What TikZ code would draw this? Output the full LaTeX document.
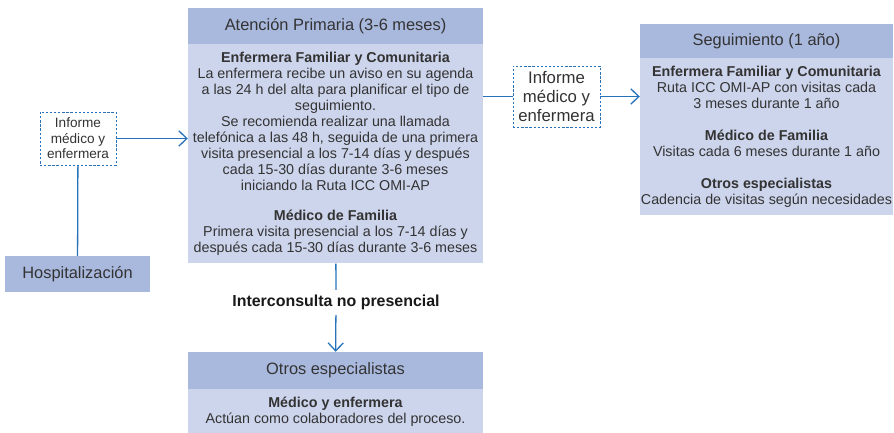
\documentclass[tikz,border=0pt]{standalone}
\usepackage{fontspec}
\setmainfont{Liberation Sans}
\usetikzlibrary{positioning,arrows.meta}
\definecolor{headblue}{RGB}{169,184,221}
\definecolor{bodyblue}{RGB}{205,213,237}
\definecolor{lineblue}{RGB}{40,114,186}
\newcommand{\txtbody}{\fontsize{12.2}{13.66}\selectfont}
\newcommand{\txthead}{\fontsize{14}{16}\selectfont}
\newcommand{\txtinfo}{\fontsize{11.6}{13.2}\selectfont}
\newcommand{\txtinfobig}{\fontsize{14.3}{16.6}\selectfont}
\tikzset{
  headbox/.style={fill=headblue, inner sep=0pt, align=center, font=\txthead, text=black!80},
  bodybox/.style={fill=bodyblue, inner sep=0pt, align=center, font=\txtbody, text=black!80},
  infobox/.style={draw=lineblue, dash pattern=on 2pt off 1.5pt, fill=white, inner sep=0pt, align=center, text=black!80},
  link/.style={draw=lineblue, line width=1.1pt},
  linkarrow/.style={link, -{Straight Barb[length=2.4mm,width=4.6mm]}}
}
\begin{document}
\begin{tikzpicture}[x=0.03cm,y=-0.03cm]
  \useasboundingbox (0,0) rectangle (894,433);
  %Atencion primaria
  \node[headbox, minimum width=8.85cm, minimum height=1.08cm] (ap) at (335.5,26) {Atención Primaria (3-6 meses)};
  \node[bodybox, minimum width=8.85cm, minimum height=6.57cm, below=0pt of ap] (apbody) {%
    \textbf{Enfermera Familiar y Comunitaria}\\
    La enfermera recibe un aviso en su agenda\\
    a las 24 h del alta para planificar el tipo de\\
    seguimiento.\\
    Se recomienda realizar una llamada\\
    telefónica a las 48 h, seguida de una primera\\
    visita presencial a los 7-14 días y después\\
    cada 15-30 días durante 3-6 meses\\
    iniciando la Ruta ICC OMI-AP\\[0.42cm]
    \textbf{Médico de Familia}\\
    Primera visita presencial a los 7-14 días y\\
    después cada 15-30 días durante 3-6 meses};
  %Hospitalizacion
  \node[headbox, minimum width=4.35cm, minimum height=1.08cm] (hosp) at (77.5,274) {Hospitalización};
  \node[infobox, font=\txtinfo, minimum width=2.28cm, minimum height=1.59cm] (infoL) at (78,138.5) {Informe\\médico y\\enfermera};
  %Seguimiento
  \node[headbox, minimum width=7.59cm, minimum height=1.02cm] (seg) at (766.5,41) {Seguimiento (1 año)};
  \node[bodybox, minimum width=7.59cm, minimum height=4.71cm, below=0pt of seg] (segbody) {%
    \textbf{Enfermera Familiar y Comunitaria}\\
    Ruta ICC OMI-AP con visitas cada\\
    3 meses durante 1 año\\[0.48cm]
    \textbf{Médico de Familia}\\
    Visitas cada 6 meses durante 1 año\\[0.48cm]
    \textbf{Otros especialistas}\\
    Cadencia de visitas según necesidades};
  \node[infobox, font=\txtinfobig, minimum width=2.61cm, minimum height=1.83cm] (infoR) at (556.5,96.5) {Informe\\médico y\\enfermera};
  %Otros especialistas
  \node[inner sep=0pt, minimum height=0.75cm, font=\fontsize{13.6}{15}\selectfont\bfseries, text=black!90] (inter) at (336,302.5) {Interconsulta no presencial};
  \node[headbox, minimum width=8.85cm, minimum height=1.11cm] (otros) at (335.5,370.5) {Otros especialistas};
  \node[bodybox, minimum width=8.85cm, minimum height=1.32cm, below=0pt of otros] (otrosbody) {%
    \textbf{Médico y enfermera}\\
    Actúan como colaboradores del proceso.};
  %Connectors
  \draw[link] (hosp) -- (infoL);
  \draw[linkarrow] (infoL.east) -- (infoL.east -| apbody.west);
  \draw[link] (apbody.east |- infoR) -- (infoR.west);
  \draw[linkarrow] (infoR.east) -- (infoR.east -| segbody.west);
  \draw[link] (apbody) -- (inter);
  \draw[linkarrow] (inter) -- (otros);
\end{tikzpicture}
\end{document}
